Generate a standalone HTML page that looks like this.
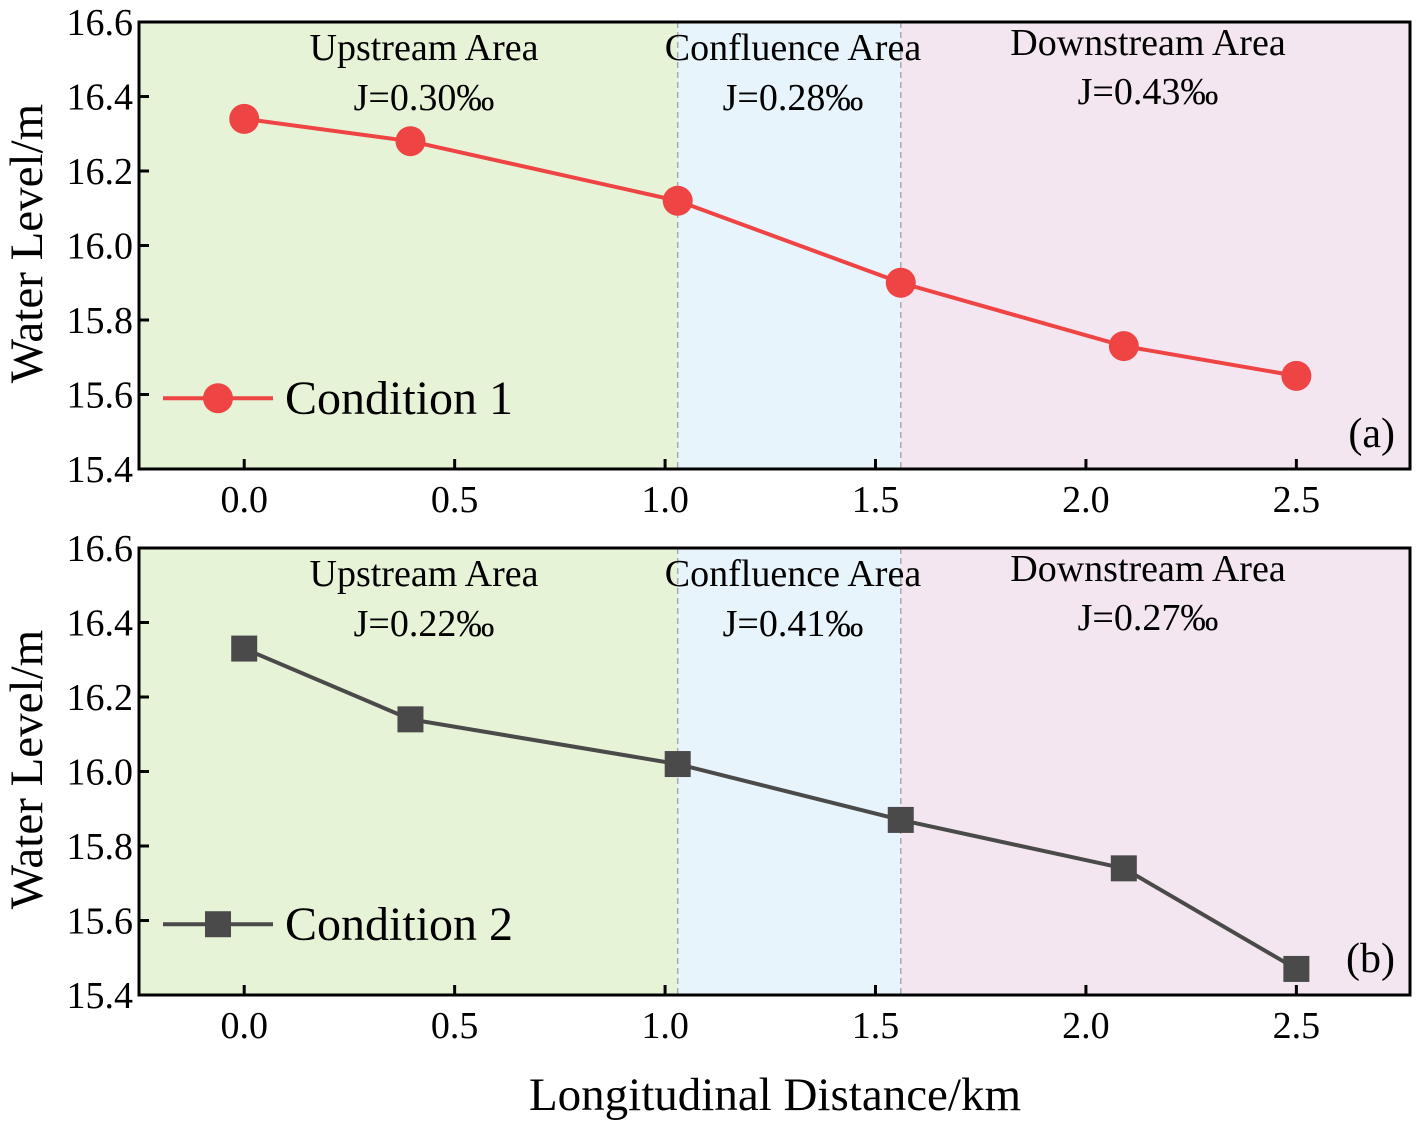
<!DOCTYPE html>
<html><head><meta charset="utf-8"><style>
html,body{margin:0;padding:0;background:#fff;}
svg{display:block;font-family:"Liberation Serif",serif;}
</style></head><body>
<svg id="chart" width="1418" height="1127"></svg>
<script>
const xValues=[0,0.395,1.03,1.56,2.09,2.5];
const seriesA=[16.34,16.28,16.12,15.90,15.73,15.65];
const seriesB=[16.33,16.14,16.02,15.87,15.74,15.47];
const xTicks=[0,0.5,1.0,1.5,2.0,2.5];
const xTickLabels=["0.0","0.5","1.0","1.5","2.0","2.5"];
const yTicks=[15.4,15.6,15.8,16.0,16.2,16.4,16.6];
const yTickLabels=["15.4","15.6","15.8","16.0","16.2","16.4","16.6"];
const boundaries=[1.03,1.56];
const slopesA=["J=0.30‰","J=0.28‰","J=0.43‰"];
const slopesB=["J=0.22‰","J=0.41‰","J=0.27‰"];
const areaNames=["Upstream Area","Confluence Area","Downstream Area"];

const NS="http://www.w3.org/2000/svg";
const svg=document.getElementById('chart');
function mk(tag,attrs,parent,text){const e=document.createElementNS(NS,tag);for(const k in attrs)e.setAttribute(k,attrs[k]);if(text!==undefined)e.textContent=text;(parent||svg).appendChild(e);return e;}
const L=139,R=1410,xMin=-0.25,xMax=2.77;
const xs=v=>L+(v-xMin)/(xMax-xMin)*(R-L);

function panel(top,bottom,data,slopes,color,marker,label,tag,labelY){
  const ys=v=>bottom-(v-15.4)/(1.2)*(bottom-top);
  const g=mk('g',{});
  
  
  const bounds=[xMin,...boundaries,xMax];
  const fills=['#e7f3d6','#e7f4fc','#f4e6f0'];
  for(let i=0;i<3;i++){
    const r=mk('rect',{x:xs(bounds[i]),y:top,width:xs(bounds[i+1])-xs(bounds[i]),height:bottom-top,fill:fills[i]},g);
    
    
  }
  boundaries.forEach(b=>{const l=mk('line',{x1:xs(b),x2:xs(b),y1:top,y2:bottom,stroke:'#aaa','stroke-width':1.5,'stroke-dasharray':'6,4'},g);
    });
  const cx=[424,793,1148];
  const nameY=[top+38,top+38,top+33];
  const jY=[top+88,top+88,top+82];
  for(let i=0;i<3;i++){
    const t=mk('text',{x:cx[i],y:nameY[i],'font-size':38,'text-anchor':'middle'},g,areaNames[i]);
    
    const j=mk('text',{x:cx[i],y:jY[i],'font-size':38,'text-anchor':'middle'},g,slopes[i]);
    
  }
  const pts=xValues.map((x,i)=>xs(x)+','+ys(data[i])).join(' ');
  const pl=mk('polyline',{points:pts,fill:'none',stroke:color,'stroke-width':4},g);
  
  function drawMarker(x,y){
    let m;
    if(marker==='circle') m=mk('circle',{cx:x,cy:y,r:15,fill:color},g);
    else m=mk('rect',{x:x-13,y:y-13,width:26,height:26,fill:color},g);
    return m;
  }
  xValues.forEach((x,i)=>{const m=drawMarker(xs(x),ys(data[i]));
    });
  const ly=ys(15.59);
  const ll=mk('line',{x1:163,x2:273,y1:ly,y2:ly,stroke:color,'stroke-width':4},g);
  
  const lm=drawMarker(218,ly);
  
  const lt=mk('text',{x:285,y:ly+16,'font-size':48},g,label);
  
  const pt=mk('text',{x:1395,y:labelY,'font-size':42,'text-anchor':'end'},g,tag);
  
  const fr=mk('rect',{x:L,y:top,width:R-L,height:bottom-top,fill:'none',stroke:'#000','stroke-width':3},g);
  
  yTicks.forEach((v,i)=>{
    mk('line',{x1:L,x2:L+10,y1:ys(v),y2:ys(v),stroke:'#000','stroke-width':3},g);
    const t=mk('text',{x:L-6,y:ys(v)+13,'font-size':38,'text-anchor':'end'},g,yTickLabels[i]);
    
  });
  xTicks.forEach((v,i)=>{
    mk('line',{x1:xs(v),x2:xs(v),y1:bottom,y2:bottom-10,stroke:'#000','stroke-width':3},g);
    const t=mk('text',{x:xs(v),y:bottom+43,'font-size':38,'text-anchor':'middle'},g,xTickLabels[i]);
    
  });
  const yt=mk('text',{x:0,y:0,'font-size':47,'text-anchor':'middle',transform:`translate(42,${(top+bottom)/2-2}) rotate(-90)`},g,'Water Level/m');
  
}
panel(22,469,seriesA,slopesA,'#ee4444','circle','Condition 1','(a)',447);
panel(548,995,seriesB,slopesB,'#4a4a4a','square','Condition 2','(b)',972);
const xt=mk('text',{x:775,y:1110,'font-size':47,'text-anchor':'middle'},svg,'Longitudinal Distance/km');


</script>
</body></html>
